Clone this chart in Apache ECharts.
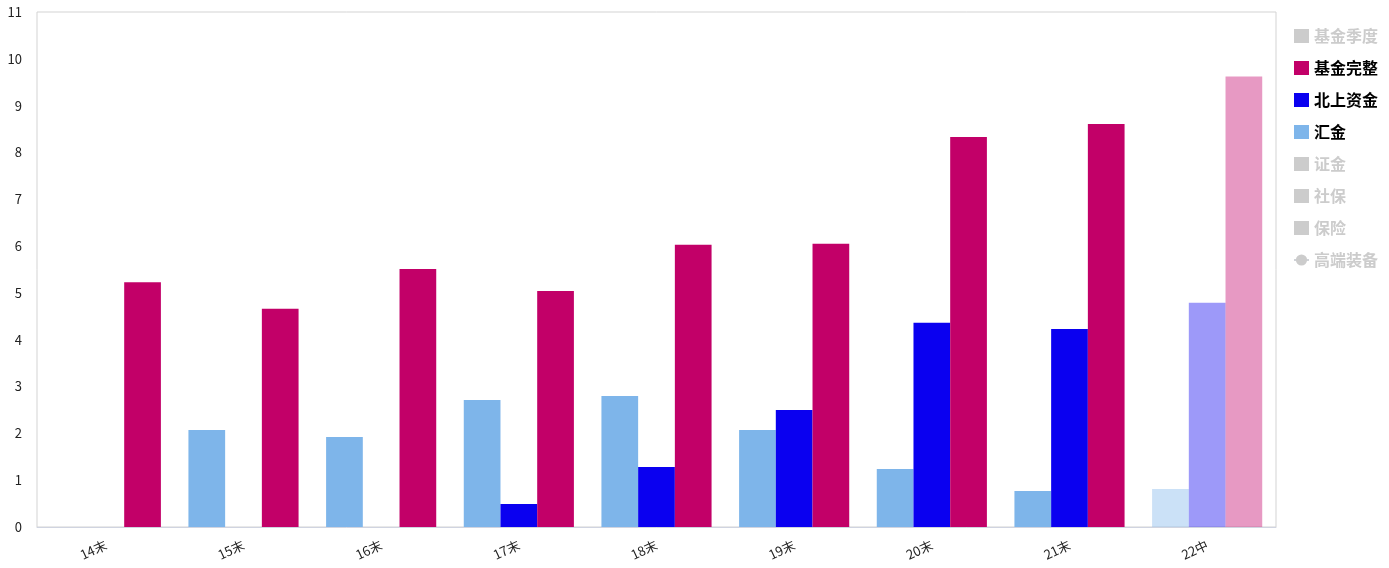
<!DOCTYPE html>
<html>
<head>
<meta charset="utf-8">
<script src="https://cdn.jsdelivr.net/npm/echarts@6/dist/echarts.min.js"></script>
<style>html,body{margin:0;padding:0;background:#fff;}#c{width:1389px;height:568px;}</style>
</head>
<body>
<div id="c"></div>
<script>
const categories = ['14末','15末','16末','17末','18末','19末','20末','21末','22中'];
const huijin = [null, 2.07, 1.92, 2.71, 2.80, 2.07, 1.24, 0.77, 0.81];
const beishang = [null, null, null, 0.49, 1.28, 2.50, 4.36, 4.23, 4.79];
const jijinWanzheng = [5.23, 4.66, 5.51, 5.04, 6.03, 6.05, 8.33, 8.61, 9.62];
const yTicks = [0, 1, 2, 3, 4, 5, 6, 7, 8, 9, 10, 11];
const legendNames = ['基金季度','基金完整','北上资金','汇金','证金','社保','保险','高端装备'];

function withLastFaded(arr) {
  return arr.map((v, i) => i === arr.length - 1 ? { value: v, itemStyle: { opacity: 0.4 } } : v);
}

const font = '"Microsoft YaHei","Noto Sans CJK SC",sans-serif';
const chart = echarts.init(document.getElementById('c'));
const barBase = { type: 'bar', barGap: 0, barCategoryGap: '20%' };
chart.setOption({
  animation: false,
  textStyle: { fontFamily: font },
  grid: { left: 37, right: 113, top: 12, bottom: 41, show: true, borderColor: '#d3d3d3', borderWidth: 1 },
  legend: {
    orient: 'vertical', left: 1288, top: 23, itemGap: 16, itemWidth: 15, itemHeight: 14,
    data: legendNames.map(n => n === '高端装备' ? { name: n } : { name: n, icon: 'rect' }),
    textStyle: { fontSize: 16, fontWeight: 'bold', color: '#000', fontFamily: font },
    inactiveColor: '#ccc',
    selected: { '基金季度': false, '证金': false, '社保': false, '保险': false, '高端装备': false }
  },
  xAxis: {
    type: 'category', data: categories,
    axisLine: { show: true, lineStyle: { color: '#d0d4e0' } },
    axisTick: { show: false },
    axisLabel: { rotate: 25, color: '#222', fontSize: 13, margin: 17 }
  },
  yAxis: {
    type: 'value', min: yTicks[0], max: yTicks[yTicks.length - 1], interval: 1,
    axisLine: { show: false }, axisTick: { show: false },
    splitLine: { show: false },
    axisLabel: { color: '#222', fontSize: 13, margin: 15 }
  },
  series: [
    Object.assign({}, barBase, { name: '基金季度', data: [], itemStyle: { color: '#999' } }),
    Object.assign({}, barBase, { name: '汇金', data: withLastFaded(huijin), itemStyle: { color: '#7EB5EA' } }),
    Object.assign({}, barBase, { name: '北上资金', data: withLastFaded(beishang), itemStyle: { color: '#0A00F0' } }),
    Object.assign({}, barBase, { name: '基金完整', data: withLastFaded(jijinWanzheng), itemStyle: { color: '#C20068' } }),
    Object.assign({}, barBase, { name: '证金', data: [], itemStyle: { color: '#888' } }),
    Object.assign({}, barBase, { name: '社保', data: [], itemStyle: { color: '#777' } }),
    Object.assign({}, barBase, { name: '保险', data: [], itemStyle: { color: '#666' } }),
    { type: 'line', name: '高端装备', data: [], symbol: 'circle', itemStyle: { color: '#555' } }
  ]
});
</script>
</body>
</html>
